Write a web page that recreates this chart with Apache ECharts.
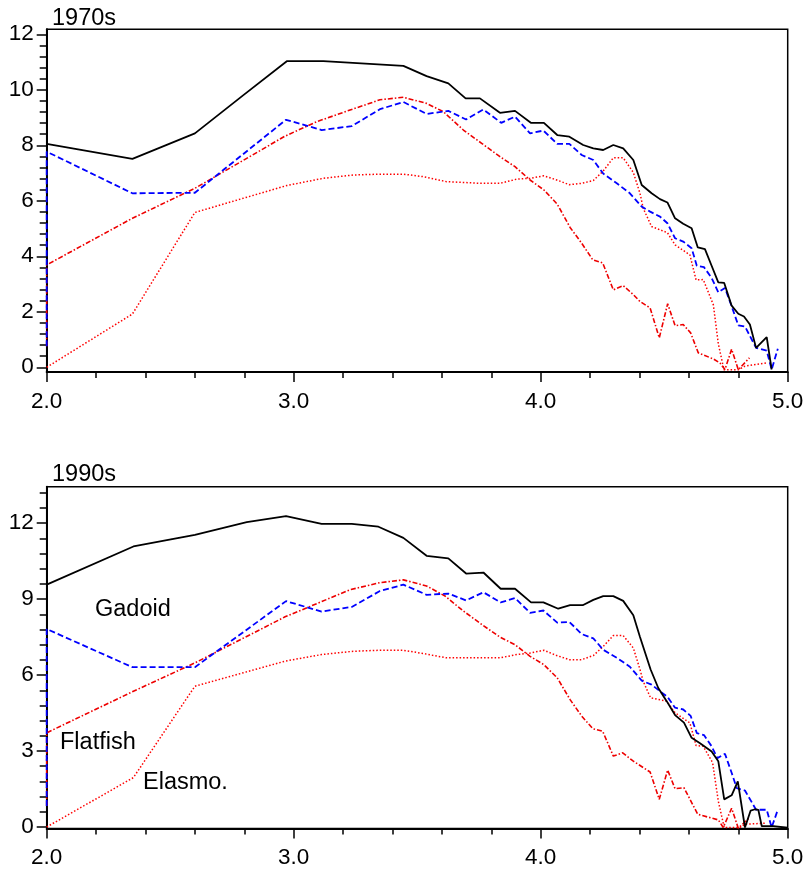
<!DOCTYPE html>
<html>
<head>
<meta charset="utf-8">
<script src="https://cdn.jsdelivr.net/npm/echarts@6/dist/echarts.min.js"></script>
<style>
html,body{margin:0;padding:0;background:#fff;}
#chart{width:809px;height:875px;}
</style>
</head>
<body>
<div id="chart"></div>
<script>
// ---------- DATA ----------
const panelTitles = ['1970s', '1990s'];
const xTickLabels = [2.0, 3.0, 4.0, 5.0];
const yTickLabelsTop = [0, 2, 4, 6, 8, 10, 12];
const yTickLabelsBottom = [0, 3, 6, 9, 12];
const seriesLabels = ['Gadoid', 'Flatfish', 'Elasmo.'];

// 1970s panel
const gadoid1970 = [[2.000,8.05],[2.347,7.51],[2.600,8.43],[2.795,9.80],[2.972,11.03],[3.120,11.03],[3.444,10.86],[3.538,10.49],[3.626,10.23],[3.696,9.69],[3.754,9.69],[3.835,9.17],[3.896,9.24],[3.960,8.81],[4.013,8.81],[4.067,8.37],[4.116,8.31],[4.172,8.01],[4.213,7.89],[4.253,7.83],[4.294,8.01],[4.334,7.89],[4.375,7.47],[4.409,6.57],[4.449,6.27],[4.483,6.06],[4.513,5.94],[4.544,5.37],[4.577,5.17],[4.611,5.01],[4.636,4.32],[4.665,4.26],[4.692,3.66],[4.719,3.06],[4.743,3.04],[4.773,2.22],[4.800,1.93],[4.823,1.83],[4.847,1.54],[4.872,0.70],[4.915,1.09],[4.935,-0.08]];
const blue1970 = [[2.000,0.76],[2.000,7.77],[2.347,6.27],[2.600,6.29],[2.969,8.92],[3.113,8.55],[3.235,8.69],[3.349,9.30],[3.444,9.56],[3.538,9.13],[3.626,9.24],[3.698,8.93],[3.768,9.29],[3.840,8.81],[3.896,9.03],[3.957,8.43],[4.011,8.53],[4.067,8.05],[4.116,8.05],[4.166,7.65],[4.213,7.47],[4.253,6.98],[4.308,6.63],[4.361,6.27],[4.409,5.79],[4.443,5.61],[4.483,5.43],[4.513,5.19],[4.544,4.65],[4.577,4.53],[4.611,4.29],[4.632,3.66],[4.661,3.61],[4.692,3.22],[4.719,2.70],[4.746,2.86],[4.773,2.20],[4.800,1.51],[4.827,1.47],[4.872,0.70],[4.915,0.60],[4.935,-0.08],[4.960,0.67]];
const flat1970 = [[2.000,0.76],[2.000,3.69],[2.347,5.37],[2.600,6.45],[2.965,8.33],[3.093,8.85],[3.228,9.27],[3.349,9.64],[3.444,9.73],[3.538,9.51],[3.606,9.21],[3.687,8.55],[3.761,8.07],[3.835,7.59],[3.896,7.23],[3.957,6.75],[4.013,6.39],[4.067,5.88],[4.119,5.04],[4.166,4.47],[4.211,3.87],[4.251,3.76],[4.294,2.79],[4.334,2.94],[4.375,2.62],[4.402,2.37],[4.443,2.14],[4.480,1.06],[4.514,2.29],[4.544,1.50],[4.577,1.54],[4.607,1.24],[4.638,0.52],[4.699,0.30],[4.726,0.15],[4.746,-0.08],[4.773,0.65],[4.800,-0.09],[4.845,0.34]];
const elasmo1970 = [[2.000,0.00],[2.347,1.92],[2.600,5.58],[2.972,6.55],[3.120,6.81],[3.241,6.93],[3.349,6.96],[3.444,6.96],[3.525,6.87],[3.619,6.69],[3.754,6.63],[3.835,6.63],[3.903,6.78],[3.957,6.81],[4.013,6.90],[4.065,6.75],[4.116,6.58],[4.166,6.63],[4.213,6.73],[4.253,7.07],[4.294,7.55],[4.334,7.55],[4.375,7.02],[4.402,6.27],[4.415,5.73],[4.449,5.07],[4.513,4.85],[4.544,4.41],[4.604,4.05],[4.629,3.15],[4.658,3.16],[4.699,2.25],[4.719,0.85],[4.742,-0.09],[4.800,-0.09],[4.827,0.04],[4.915,0.16]];

// 1990s panel
const gadoid1990 = [[2.000,9.57],[2.351,11.08],[2.600,11.54],[2.810,12.04],[2.969,12.28],[3.113,11.97],[3.235,11.97],[3.343,11.86],[3.444,11.42],[3.538,10.71],[3.626,10.61],[3.698,10.01],[3.768,10.05],[3.838,9.41],[3.896,9.41],[3.961,8.87],[4.011,8.87],[4.071,8.62],[4.119,8.76],[4.170,8.76],[4.213,8.97],[4.253,9.12],[4.294,9.12],[4.334,8.93],[4.375,8.36],[4.402,7.50],[4.445,6.22],[4.476,5.49],[4.510,4.97],[4.544,4.42],[4.580,4.12],[4.611,3.52],[4.645,3.31],[4.692,2.98],[4.719,2.60],[4.743,1.09],[4.773,1.25],[4.798,1.80],[4.827,-0.02],[4.850,0.65],[4.868,0.70],[4.881,0.68],[4.895,0.03],[4.942,0.03],[5.000,-0.03]];
const blue1990 = [[2.000,0.83],[2.000,7.82],[2.347,6.31],[2.600,6.31],[2.969,8.92],[3.113,8.51],[3.235,8.69],[3.349,9.32],[3.444,9.57],[3.538,9.17],[3.626,9.22],[3.698,8.95],[3.768,9.27],[3.838,8.87],[3.896,9.04],[3.957,8.46],[4.011,8.55],[4.067,8.07],[4.116,8.10],[4.166,7.62],[4.213,7.45],[4.253,7.00],[4.308,6.68],[4.361,6.33],[4.409,5.78],[4.449,5.62],[4.483,5.36],[4.513,5.14],[4.544,4.71],[4.577,4.64],[4.607,4.39],[4.632,3.71],[4.661,3.63],[4.692,3.19],[4.715,2.72],[4.746,2.89],[4.773,2.14],[4.794,1.53],[4.827,1.44],[4.872,0.68],[4.915,0.68],[4.935,-0.02],[4.960,0.68]];
const flat1990 = [[2.000,0.83],[2.000,3.72],[2.351,5.36],[2.600,6.48],[2.965,8.30],[3.093,8.82],[3.228,9.37],[3.349,9.65],[3.444,9.76],[3.538,9.52],[3.613,9.12],[3.687,8.53],[3.761,8.00],[3.835,7.50],[3.896,7.20],[3.957,6.74],[4.013,6.41],[4.067,5.89],[4.119,5.03],[4.166,4.38],[4.211,3.88],[4.251,3.78],[4.294,2.80],[4.332,2.93],[4.375,2.60],[4.443,2.17],[4.480,1.09],[4.514,2.25],[4.544,1.51],[4.580,1.55],[4.636,0.50],[4.719,0.28],[4.739,-0.02],[4.773,0.74],[4.800,-0.05],[4.845,0.37]];
const elasmo1990 = [[2.000,0.00],[2.351,1.95],[2.600,5.56],[2.965,6.55],[3.113,6.81],[3.241,6.94],[3.349,6.98],[3.444,6.98],[3.525,6.85],[3.619,6.68],[3.754,6.68],[3.835,6.68],[3.903,6.81],[3.957,6.87],[4.013,6.98],[4.065,6.77],[4.116,6.61],[4.166,6.61],[4.213,6.77],[4.253,7.13],[4.294,7.56],[4.334,7.56],[4.375,7.07],[4.402,6.22],[4.415,5.75],[4.445,5.10],[4.510,4.97],[4.544,4.51],[4.604,4.11],[4.629,3.22],[4.658,3.19],[4.696,2.54],[4.719,1.02],[4.743,-0.02],[4.807,-0.02],[4.827,0.11],[4.915,0.15]];

// ---------- CHART ----------
const FONT = 'Liberation Sans, Arial, sans-serif';
function range(a, b, step) { const r = []; for (let v = a; v <= b + 1e-9; v += step) r.push(+v.toFixed(4)); return r; }

const panels = [
  { top: 29.3, bottom: 503, ymin: -0.17, ymax: 12.18, yLab: yTickLabelsTop, yMinor: range(0, 12, 0.4), title: panelTitles[0], titleY: 18.3 },
  { top: 486.7, bottom: 46.5, ymin: -0.06, ymax: 13.44, yLab: yTickLabelsBottom, yMinor: range(0, 13.2, 0.6), title: panelTitles[1], titleY: 474.7 }
];

const grids = [], xAxes = [], yAxes = [];
panels.forEach((p, i) => {
  grids.push({ left: 46.7, right: 21.3, top: p.top, bottom: p.bottom, show: true, borderColor: '#000', borderWidth: 1.5, backgroundColor: 'transparent' });
  // major x axis
  xAxes.push({ type: 'value', gridIndex: i, position: 'bottom', min: 2, max: 5, splitLine: { show: false },
    axisLine: { show: true, onZero: false, lineStyle: { color: '#000', width: 2 } },
    axisTick: { show: true, length: 10, lineStyle: { color: '#000', width: 1.5 }, customValues: xTickLabels },
    axisLabel: { show: true, margin: 18, color: '#000', fontSize: 22.5, fontFamily: FONT, customValues: xTickLabels, formatter: v => v.toFixed(1) } });
  // minor x ticks
  xAxes.push({ type: 'value', gridIndex: i, position: 'bottom', min: 2, max: 5, splitLine: { show: false },
    axisLine: { show: false, onZero: false },
    axisTick: { show: true, length: 6, lineStyle: { color: '#000', width: 1.5 }, customValues: range(2, 5, 0.2) },
    axisLabel: { show: false } });
  // major y axis
  yAxes.push({ type: 'value', gridIndex: i, position: 'left', min: p.ymin, max: p.ymax, splitLine: { show: false },
    axisLine: { show: true, onZero: false, lineStyle: { color: '#000', width: 2 } },
    axisTick: { show: true, length: 10, lineStyle: { color: '#000', width: 1.5 }, customValues: p.yLab },
    axisLabel: { show: true, margin: 13, color: '#000', fontSize: 22.5, fontFamily: FONT, customValues: p.yLab, padding: [6, 0, 0, 0] } });
  // minor y ticks
  yAxes.push({ type: 'value', gridIndex: i, position: 'left', min: p.ymin, max: p.ymax, splitLine: { show: false },
    axisLine: { show: false, onZero: false },
    axisTick: { show: true, length: 7, lineStyle: { color: '#000', width: 1.5 }, customValues: p.yMinor },
    axisLabel: { show: false } });
});

function mk(name, data, panel, color, type, width) {
  return { name, type: 'line', data, xAxisIndex: panel * 2, yAxisIndex: panel * 2, showSymbol: false, symbol: 'none',
    lineStyle: { color, type, width }, clip: false, z: 3, silent: true };
}

const series = [
  mk('Elasmo. 1970s', elasmo1970, 0, '#ff0000', [1.5, 2], 1.5),
  mk('Flatfish 1970s', flat1970, 0, '#ee0000', [5, 2, 1.5, 2], 1.6),
  mk('Blue 1970s', blue1970, 0, '#0000ff', [6, 3], 1.8),
  mk('Gadoid 1970s', gadoid1970, 0, '#000000', 'solid', 1.8),
  mk('Elasmo. 1990s', elasmo1990, 1, '#ff0000', [1.5, 2], 1.5),
  mk('Flatfish 1990s', flat1990, 1, '#ee0000', [5, 2, 1.5, 2], 1.6),
  mk('Blue 1990s', blue1990, 1, '#0000ff', [6, 3], 1.8),
  mk('Gadoid 1990s', gadoid1990, 1, '#000000', 'solid', 1.8)
];

function txt(text, x, y) {
  return { type: 'text', x, y, z: 10, style: { text, x: 0, y: 0, fill: '#000', font: '23.5px ' + FONT, align: 'left', verticalAlign: 'middle' } };
}

const graphic = [
  txt(panels[0].title, 52, panels[0].titleY),
  txt(panels[1].title, 52, panels[1].titleY),
  txt(seriesLabels[0], 95, 609.5),
  txt(seriesLabels[1], 60, 743),
  txt(seriesLabels[2], 143, 782.7)
];

const chart = echarts.init(document.getElementById('chart'), null, { renderer: 'canvas' });
chart.setOption({ animation: false, backgroundColor: '#fff', grid: grids, xAxis: xAxes, yAxis: yAxes, series, graphic });
</script>
</body>
</html>
